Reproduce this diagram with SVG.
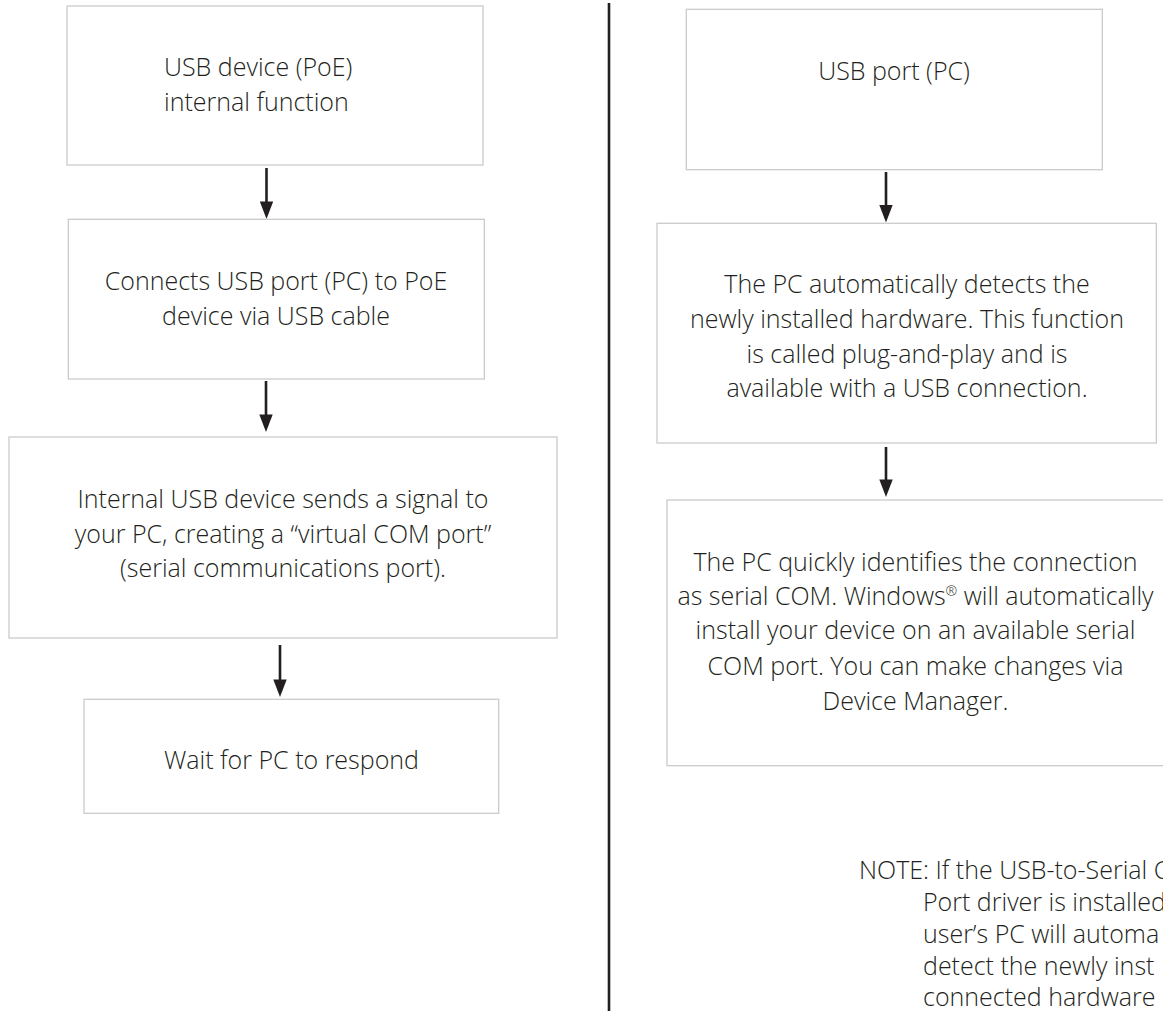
<svg xmlns="http://www.w3.org/2000/svg" width="1163" height="1011" viewBox="0 0 1163 1011">
  <style>
    .box { fill: #ffffff; stroke: #cbcbcb; stroke-width: 1.3; }
    .txt { font-family: "Open Sans", "Noto Sans", "Liberation Sans", sans-serif; font-size: 25px; font-weight: 300; fill: #231f20; }
    .mid { text-anchor: middle; }
    .conn { stroke: #231f20; stroke-width: 2.6; fill: none; marker-end: url(#arrow); }
    .divider { stroke: #231f20; stroke-width: 2.6; }
  </style>
  <defs>
    <marker id="arrow" markerUnits="userSpaceOnUse" viewBox="0 0 17.6 13.4" markerWidth="17.6" markerHeight="13.4" refX="7.6" refY="6.7" orient="auto">
      <path d="M0,0 L17.6,6.7 L0,13.4 Z" fill="#231f20"/>
    </marker>
  </defs>
  <rect width="1163" height="1011" fill="#ffffff"/>

  <line class="divider" x1="609" y1="3" x2="609" y2="1011"/>

  <g id="connectors">
    <line class="conn" x1="266.5" y1="168" x2="266.5" y2="209"/>
    <line class="conn" x1="266" y1="381" x2="266" y2="422"/>
    <line class="conn" x1="280" y1="645" x2="280" y2="687"/>
    <line class="conn" x1="886" y1="172" x2="886" y2="212.5"/>
    <line class="conn" x1="886" y1="447" x2="886" y2="487"/>
  </g>

  <g id="node-usb-device">
    <rect class="box" x="67" y="6" width="416" height="159"/>
    <text class="txt" x="164" y="76">USB device (PoE)</text>
    <text class="txt" x="164" y="110.7">internal function</text>
  </g>

  <g id="node-connects">
    <rect class="box" x="68.3" y="219.3" width="416" height="159.7"/>
    <text class="txt mid" x="276" y="289.5">Connects USB port (PC) to PoE</text>
    <text class="txt mid" x="276" y="325">device via USB cable</text>
  </g>

  <g id="node-internal-signal">
    <rect class="box" x="9" y="437" width="548" height="201"/>
    <text class="txt mid" x="283" y="508">Internal USB device sends a signal to</text>
    <text class="txt mid" x="283" y="542.5">your PC, creating a “virtual COM port”</text>
    <text class="txt mid" x="283" y="577">(serial communications port).</text>
  </g>

  <g id="node-wait">
    <rect class="box" x="84" y="699.3" width="414.7" height="114"/>
    <text class="txt mid" x="291.5" y="769">Wait for PC to respond</text>
  </g>

  <g id="node-usb-port">
    <rect class="box" x="686.3" y="9.3" width="416" height="160.4"/>
    <text class="txt mid" x="894" y="80">USB port (PC)</text>
  </g>

  <g id="node-detects">
    <rect class="box" x="657" y="223.3" width="499.3" height="219.7"/>
    <text class="txt mid" x="907" y="293.3">The PC automatically detects the</text>
    <text class="txt mid" x="907" y="327.7">newly installed hardware. This function</text>
    <text class="txt mid" x="907" y="362.7">is called plug-and-play and is</text>
    <text class="txt mid" x="907" y="397.3">available with a USB connection.</text>
  </g>

  <g id="node-identifies">
    <rect class="box" x="667" y="500" width="497" height="265.7"/>
    <text class="txt mid" x="915.5" y="570.7">The PC quickly identifies the connection</text>
    <text class="txt mid" x="915.5" y="605">as serial COM. Windows<tspan font-size="14" dy="-9">®</tspan><tspan dy="9"> will automatically</tspan></text>
    <text class="txt mid" x="915.5" y="639.3">install your device on an available serial</text>
    <text class="txt mid" x="915.5" y="675">COM port. You can make changes via</text>
    <text class="txt mid" x="915.5" y="710">Device Manager.</text>
  </g>

  <g id="note">
    <text class="txt" x="859" y="879">NOTE: If the USB-to-Serial C</text>
    <text class="txt" x="923" y="911">Port driver is installed</text>
    <text class="txt" x="923" y="943">user’s PC will automa</text>
    <text class="txt" x="923" y="975">detect the newly inst</text>
    <text class="txt" x="923" y="1006">connected hardware</text>
  </g>
</svg>
